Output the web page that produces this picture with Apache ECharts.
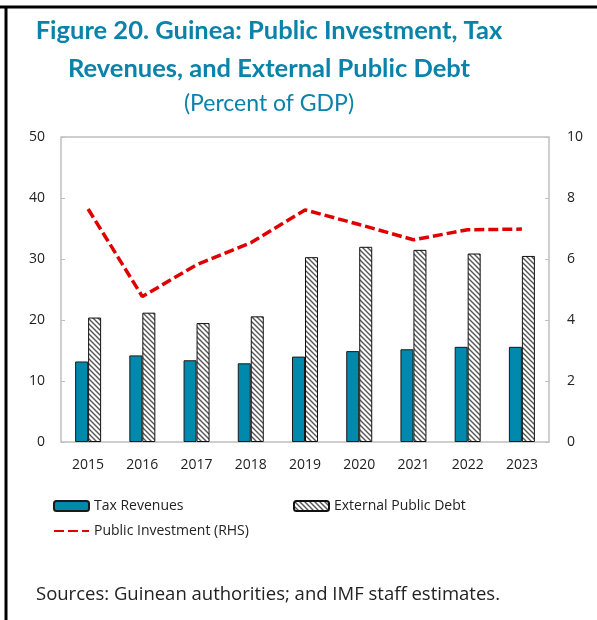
<!DOCTYPE html>
<html>
<head>
<meta charset="utf-8">
<script src="https://cdn.jsdelivr.net/npm/echarts@6/dist/echarts.min.js"></script>
<style>
  html, body { margin: 0; padding: 0; background: #fff; }
  #chart { width: 597px; height: 620px; }
</style>
</head>
<body>
<div id="chart"></div>
<script>
const years = ['2015', '2016', '2017', '2018', '2019', '2020', '2021', '2022', '2023'];
const taxRevenues = [13.2, 14.2, 13.4, 12.9, 14.0, 14.9, 15.2, 15.6, 15.6];
const externalDebt = [20.4, 21.2, 19.5, 20.6, 30.3, 32.0, 31.5, 30.9, 30.5];
const publicInvestment = [7.64, 4.77, 5.81, 6.53, 7.61, 7.13, 6.63, 6.96, 6.98];

const titleColor = '#0a83ab';
const axisGray = '#bfbfbf';
const textColor = '#222';

// diagonal hatch for the debt bars
function hatch() {
	const c = document.createElement('canvas');
	c.width = 5; c.height = 5;
	const ctx = c.getContext('2d');
	ctx.fillStyle = '#fff';
	ctx.fillRect(0, 0, 5, 5);
	ctx.strokeStyle = '#555';
	ctx.lineWidth = 1.4;
	ctx.beginPath();
	ctx.moveTo(-1, -1); ctx.lineTo(6, 6);
	ctx.moveTo(-1, 4); ctx.lineTo(1, 6);
	ctx.moveTo(4, -1); ctx.lineTo(6, 1);
	ctx.stroke();
	return c;
}

const chart = echarts.init(document.getElementById('chart'));

chart.setOption({
	animation: false,
	textStyle: { fontFamily: 'Open Sans' },
	title: [
		{
			text: 'Figure 20. Guinea: Public Investment, Tax\nRevenues, and External Public Debt',
			subtext: '(Percent of GDP)',
			left: 264,
			top: 7,
			textAlign: 'center',
			itemGap: 4,
			textStyle: { fontFamily: 'Lato', fontSize: 25.5, fontWeight: 'bold', color: titleColor, lineHeight: 38 },
			subtextStyle: { fontFamily: 'Lato', fontSize: 23, color: titleColor },
		},
		{
			text: 'Sources: Guinean authorities; and IMF staff estimates.',
			left: 263,
			top: 580,
			textAlign: 'center',
			textStyle: { fontFamily: 'Open Sans', fontSize: 18.5, fontWeight: 'normal', color: textColor },
		},
	],
	graphic: [
		{ type: 'line', shape: { x1: 0, y1: 7, x2: 597, y2: 7 }, style: { stroke: '#000', lineWidth: 3 } },
		{ type: 'line', shape: { x1: 6, y1: 7, x2: 6, y2: 620 }, style: { stroke: '#000', lineWidth: 3 } },
	],
	legend: [
		{
			orient: 'vertical',
			left: 48,
			top: 494,
			itemWidth: 35,
			itemHeight: 10,
			itemGap: 11,
			data: ['Tax Revenues', { name: 'Public Investment (RHS)', itemStyle: { opacity: 0 } }],
			textStyle: { fontSize: 14, color: textColor },
		},
		{
			left: 288,
			top: 494,
			itemWidth: 35,
			itemHeight: 10,
			data: ['External Public Debt'],
			textStyle: { fontSize: 14, color: textColor },
		},
	],
	grid: {
		left: 61,
		right: 48,
		top: 137,
		bottom: 178,
		show: true,
		borderColor: axisGray,
		borderWidth: 1.5,
	},
	xAxis: {
		type: 'category',
		data: years,
		axisLine: { show: false },
		axisTick: { inside: true, length: 5, lineStyle: { color: axisGray } },
		axisLabel: { fontSize: 14, color: textColor, margin: 16 },
	},
	yAxis: [
		{
			type: 'value',
			min: 0,
			max: 50,
			interval: 10,
			splitLine: { show: false },
			axisLine: { show: false },
			axisTick: { show: true, inside: true, length: 4, lineStyle: { color: axisGray } },
			axisLabel: { fontSize: 14, color: textColor, margin: 16 },
		},
		{
			type: 'value',
			min: 0,
			max: 10,
			interval: 2,
			splitLine: { show: false },
			axisLine: { show: false },
			axisTick: { show: true, inside: true, length: 4, lineStyle: { color: axisGray } },
			axisLabel: { fontSize: 14, color: textColor, margin: 18 },
		},
	],
	series: [
		{
			name: 'Tax Revenues',
			type: 'bar',
			data: taxRevenues,
			barWidth: 13,
			barGap: '0%',
			itemStyle: { color: '#0089ad', borderColor: '#1a1a1a', borderWidth: 1 },
		},
		{
			name: 'External Public Debt',
			type: 'bar',
			data: externalDebt,
			barWidth: 13,
			barGap: '0%',
			itemStyle: { color: { image: hatch(), repeat: 'repeat' }, borderColor: '#111', borderWidth: 1 },
		},
		{
			name: 'Public Investment (RHS)',
			type: 'line',
			yAxisIndex: 1,
			data: publicInvestment,
			symbol: 'none',
			lineStyle: { color: '#e00000', width: 3.5, type: [10, 4] },
			itemStyle: { color: '#e00000' },
		},
	],
});
</script>
</body>
</html>
